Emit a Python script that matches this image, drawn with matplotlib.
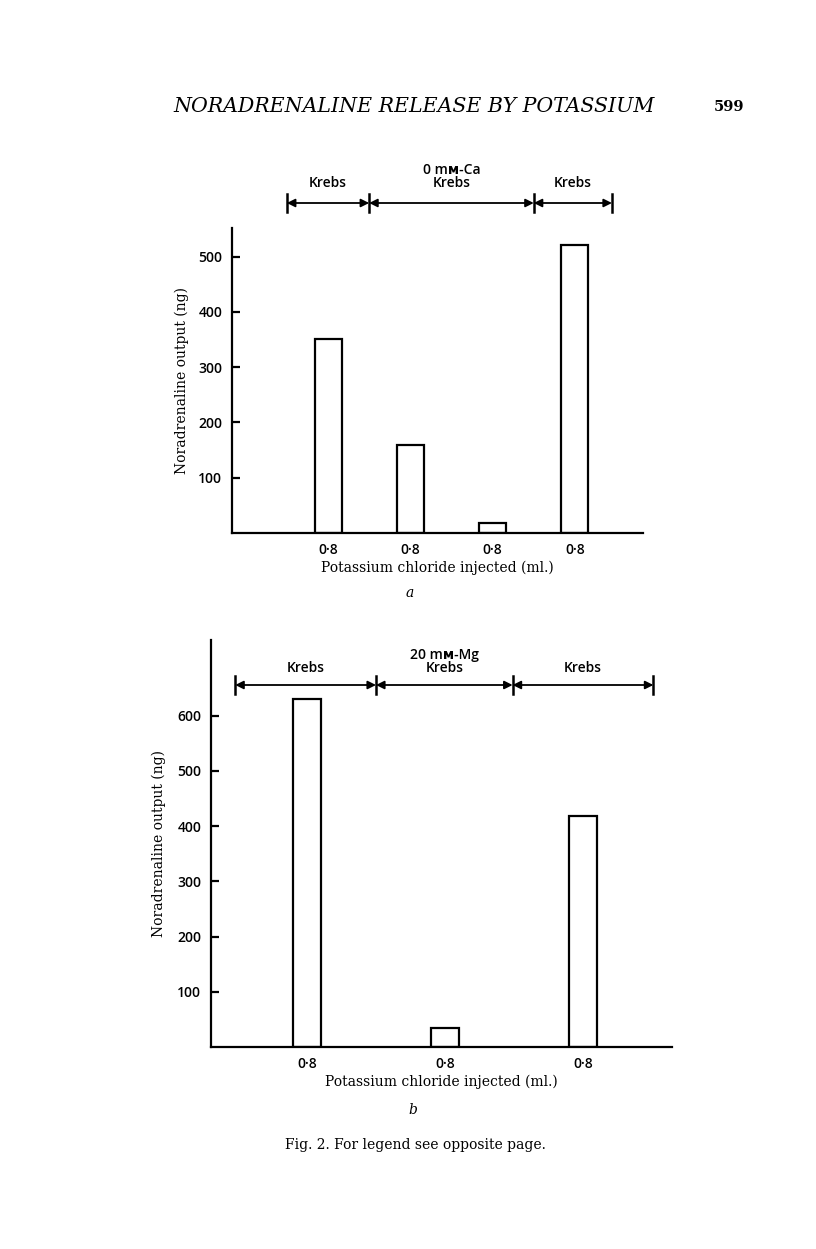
import matplotlib
matplotlib.use('Agg')
import matplotlib.pyplot as plt
import numpy as np

# panel a: Krebs / 0 mM-Ca Krebs / Krebs
a_pos = [1, 2, 3, 4]
a_vals = [350, 160, 18, 520]
a_ticks = ['0·8', '0·8', '0·8', '0·8']
a_yticks = [100, 200, 300, 400, 500]
a_phase_edges = [0.5, 1.5, 3.5, 4.45]
a_phase_names = ['Krebs', '0 mᴍ-Ca\nKrebs', 'Krebs']

# panel b: Krebs / 20 mM-Mg Krebs / Krebs
b_pos = [1, 2, 3]
b_vals = [630, 35, 418]
b_ticks = ['0·8', '0·8', '0·8']
b_yticks = [100, 200, 300, 400, 500, 600]
b_phase_edges = [0.48, 1.5, 2.49, 3.51]
b_phase_names = ['Krebs', '20 mᴍ-Mg\nKrebs', 'Krebs']

W, H = 816, 1249
SANS = ['Open Sans', 'DejaVu Sans']
SERIF = 'DejaVu Serif'

fig = plt.figure(figsize=(W / 100, H / 100), dpi=100)
fig.patch.set_facecolor('white')


def px_axes(l, r, t, b):
    return fig.add_axes([l / W, 1 - b / H, (r - l) / W, (b - t) / H])


def draw_panel(ax, pos, vals, ticks, yticks, xlim, ylim, width, edges, names,
               yarrow, ytext, bar_half, ylabelpad):
    ax.bar(pos, vals, width=width, facecolor='white', edgecolor='black', linewidth=1.6)
    ax.set_xlim(*xlim)
    ax.set_ylim(*ylim)
    for s in ['top', 'right']:
        ax.spines[s].set_visible(False)
    for s in ['left', 'bottom']:
        ax.spines[s].set_linewidth(1.6)
    ax.set_xticks(pos)
    ax.set_xticklabels(ticks, fontfamily=SANS, fontsize=10, fontweight='semibold')
    ax.tick_params(axis='x', length=0, pad=7)
    ax.set_yticks(yticks)
    ax.set_yticklabels([str(v) for v in yticks], fontfamily=SANS, fontsize=10, fontweight='semibold')
    ax.tick_params(axis='y', direction='in', length=6, width=1.6, pad=7)
    ax.set_xlabel('Potassium chloride injected (ml.)', fontfamily=SERIF, fontsize=10, labelpad=3)
    ax.set_ylabel('Noradrenaline output (ng)', fontfamily=SERIF, fontsize=10, labelpad=ylabelpad)
    tr = ax.get_xaxis_transform()
    for i in range(len(names)):
        x0, x1 = edges[i], edges[i + 1]
        ax.annotate('', xy=(x1, yarrow), xytext=(x0, yarrow), xycoords=tr, textcoords=tr,
                    arrowprops=dict(arrowstyle='<|-|>', color='black', lw=1.3,
                                    mutation_scale=12, shrinkA=0, shrinkB=0),
                    annotation_clip=False)
        ax.text((x0 + x1) / 2, ytext, names[i], transform=tr, ha='center', va='bottom',
                fontfamily=SANS, fontsize=10, fontweight='semibold', linespacing=0.95,
                clip_on=False)
    # boundary bars between phases
    for e in edges:
        ax.plot([e, e], [yarrow - bar_half, yarrow + bar_half], transform=tr,
                color='black', lw=1.8, clip_on=False)


# panel a
ax_a = px_axes(232, 643, 228, 533)
sp_a = 82.3
xl_a = (1 - (328 - 232) / sp_a, 1 + (643 - 328) / sp_a)
yl_a = (0, (533 - 228) / 0.553)
draw_panel(ax_a, a_pos, a_vals, a_ticks, a_yticks, xl_a, yl_a, 27 / sp_a,
           a_phase_edges, a_phase_names, (533 - 203) / 305, (533 - 190) / 305,
           9 / 305, 7)
ax_a.text(1 + (410 - 328) / sp_a, -0.197, 'a', transform=ax_a.get_xaxis_transform(),
          ha='center', va='center', fontfamily=SERIF, fontstyle='italic', fontsize=10)

# panel b
ax_b = px_axes(211, 672, 640, 1047)
sp_b = 138.0
xl_b = (1 - (307 - 211) / sp_b, 1 + (672 - 307) / sp_b)
yl_b = (0, (1047 - 640) / 0.552)
draw_panel(ax_b, b_pos, b_vals, b_ticks, b_yticks, xl_b, yl_b, 28 / sp_b,
           b_phase_edges, b_phase_names, (1047 - 685) / 407, (1047 - 675) / 407,
           9 / 407, 8)
ax_b.text(1 + (413 - 307) / sp_b, -0.155, 'b', transform=ax_b.get_xaxis_transform(),
          ha='center', va='center', fontfamily=SERIF, fontstyle='italic', fontsize=10)

# page furniture
fig.text(414.5 / W, 1 - 107 / H, 'NORADRENALINE RELEASE BY POTASSIUM', ha='center', va='center',
         fontfamily=SERIF, fontstyle='italic', fontsize=14.8)
fig.text(729 / W, 1 - 107 / H, '599', ha='center', va='center',
         fontfamily=SERIF, fontweight='bold', fontsize=10.5)
fig.text(415 / W, 1 - 1145 / H, 'Fig. 2. For legend see opposite page.', ha='center', va='center',
         fontfamily=SERIF, fontsize=10)

fig.savefig('out.png', dpi=100, facecolor='white')
